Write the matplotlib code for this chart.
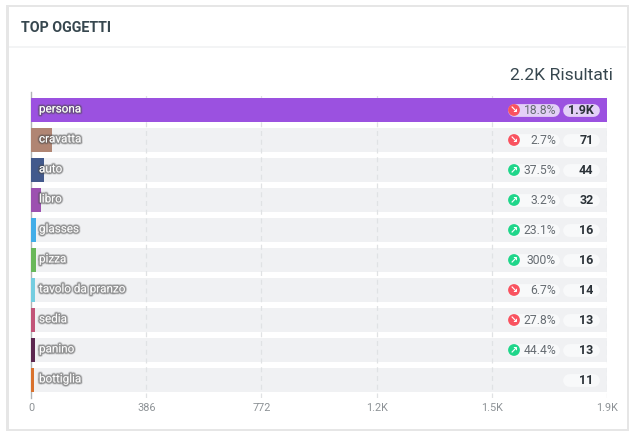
import matplotlib
matplotlib.use("Agg")
import matplotlib.pyplot as plt
import matplotlib.patheffects as pe
from matplotlib.patches import Rectangle
from matplotlib.transforms import blended_transform_factory

plt.rcParams['font.family'] = ['Roboto', 'DejaVu Sans']

# Data
labels = ['persona', 'cravatta', 'auto', 'libro', 'glasses', 'pizza',
          'tavolo da pranzo', 'sedia', 'panino', 'bottiglia']
values = [1930, 71, 44, 32, 16, 16, 14, 13, 13, 11]
value_text = ['1.9K', '71', '44', '32', '16', '16', '14', '13', '13', '11']
change_text = ['18.8%', '2.7%', '37.5%', '3.2%', '23.1%', '300%', '6.7%', '27.8%', '44.4%', '']
change_dir = ['down', 'down', 'up', 'up', 'up', 'up', 'down', 'down', 'up', '']
bar_colors = ['#9b51e0', '#b08573', '#42598c', '#9c51b0', '#42ade8', '#69b85a',
              '#74cde0', '#c25478', '#5c2750', '#d9722e']
tick_vals = [0, 386, 772, 1158, 1544, 1930]
tick_labels = ['0', '386', '772', '1.2K', '1.5K', '1.9K']

W, H = 631, 432
fig = plt.figure(figsize=(W / 100, H / 100), dpi=100, facecolor='white')

# card, shadow and header rule in figure pixels
def fig_rect(x0, y0, x1, y1, **kw):
    fig.add_artist(Rectangle((x0 / W, 1 - y1 / H), (x1 - x0) / W, (y1 - y0) / H,
                             transform=fig.transFigure, **kw))

fig_rect(6, 5, 629, 431, facecolor='#e6e6e6', edgecolor='none')
fig_rect(8.5, 6.5, 626.5, 429, facecolor='white', edgecolor='none')
fig_rect(9, 46, 626, 47.5, facecolor='#f3f4f5', edgecolor='none')
fig.text(21 / W, 1 - 28 / H, 'TOP OGGETTI', fontsize=10.3, fontweight='bold',
         color='#37474f', va='center', ha='left')
fig.text(613 / W, 1 - 76 / H, '2.2K Risultati', fontsize=12.6, color='#37474f',
         va='center', ha='right')

left, right, top, bottom = 31, 607, 92, 398
ax = fig.add_axes([left / W, 1 - bottom / H, (right - left) / W, (bottom - top) / H], zorder=5)
ax.set_xlim(0, tick_vals[-1])
ax.set_ylim(9.6, -0.6)
ax.patch.set_alpha(0)
for s in ax.spines.values():
    s.set_visible(False)

rows = range(len(labels))
ax.barh(rows, [tick_vals[-1]] * len(labels), height=0.8, color='#f0f1f3', zorder=1)
for t in tick_vals[1:]:
    ax.axvline(t, color='#e0e2e4', lw=0.9, ls=(0, (4, 3)), zorder=2)
ax.barh(rows, values, height=0.8, color=bar_colors, zorder=3)
ax.plot([0, 0], [-0.6, 9.6], color='#b0b3b6', lw=1.0, zorder=2.5, clip_on=False)

ax.set_yticks([])
ax.set_xticks(tick_vals)
ax.set_xticklabels(tick_labels, fontsize=7.8, color='#8d9296')
ax.tick_params(axis='x', length=0, pad=3.5)

# right hand pills sit at fixed pixel columns, y follows the row
trans = blended_transform_factory(ax.transAxes, ax.transData)

def col(px):
    return (px - left) / (right - left)

def pill(x0, x1, y, color):
    ax.plot([col(x0), col(x1)], [y, y], transform=trans, color=color, lw=9.2,
            solid_capstyle='round', zorder=5)

# soft shadow round the labels
shadow = [pe.withStroke(linewidth=3.2, foreground='#55555530'),
          pe.withStroke(linewidth=2.0, foreground='#44444470')]
for i in rows:
    ax.annotate(labels[i], xy=(0, i), xytext=(8 * 0.72, 0.8), textcoords='offset points',
                fontsize=8.4, color='white', va='center', ha='left',
                zorder=7, path_effects=shadow)

    dark = i == 0
    pill(569, 593, i, '#e3d0f7' if dark else '#f8f9fa')
    ax.annotate(value_text[i], xy=(col(593.5), i), xycoords=trans, xytext=(0, 0.5),
                textcoords='offset points', fontsize=9, fontweight='bold',
                color='#2b3238', va='center_baseline', ha='right', zorder=6)
    if change_text[i]:
        pill(514, 553, i, '#e3d0f7' if dark else '#f8f9fa')
        ax.annotate(change_text[i], xy=(col(556), i), xycoords=trans, xytext=(0, 0.5),
                    textcoords='offset points', fontsize=8.7, color='#666c72',
                    va='center_baseline', ha='right', zorder=6)
        up = change_dir[i] == 'up'
        ax.scatter([col(514)], [i], transform=trans, s=72, color='#1fd68a' if up else '#f9525f',
                   edgecolor='none', zorder=6)
        ax.text(col(514), i, '↗' if up else '↘', transform=trans, fontsize=7, fontweight='bold',
                family=['DejaVu Sans'], color='white', va='center', ha='center', zorder=7)

fig.savefig('out.png', dpi=100)
